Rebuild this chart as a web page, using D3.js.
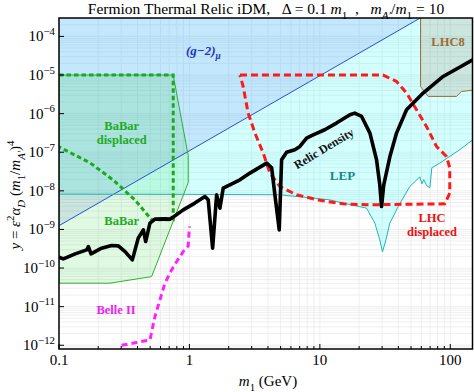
<!DOCTYPE html>
<html><head><meta charset="utf-8">
<script src="https://cdn.jsdelivr.net/npm/d3@7"></script>
<style>body{margin:0;background:#fff} text{font-family:"Liberation Serif","Times New Roman",serif}</style>
</head><body><svg id="c" width="474" height="392"></svg>
<script>
// ---------- data (m1 in GeV, y dimensionless) ----------
const relicM = [0.1,0.108,0.133,0.163,0.168,0.176,0.212,0.253,0.285,0.321,0.365,0.405,0.443,0.462,0.498,0.544,0.649,0.709,0.751,0.896,1.10,1.315,1.393,1.506,1.616,1.713,1.815,2.44,2.91,3.91,4.27,4.52,4.88,5.09,5.56,6.43,7.03,7.91,8.89,10.9,13.4,17.0,18.5,20.9,24.2,27.2,28.8,29.7,30.9,34.4,38.7,46.2,61.9,88.1,148.7];
const relicY = [1.91e-10,1.73e-10,2.33e-10,2.96e-10,3.6e-10,2.33e-10,3.27e-10,3.83e-10,3.76e-10,2.67e-10,1.63e-10,5.95e-10,9.76e-10,4.86e-10,1.46e-9,1.85e-9,1.88e-9,1.85e-9,2.08e-9,3.22e-9,4.81e-9,7.13e-9,5.85e-9,3.27e-10,7.89e-9,3.56e-9,1.17e-8,1.93e-8,2.88e-8,5.23e-8,3.95e-8,7.89e-9,9.76e-10,6.37e-8,9.97e-8,1.16e-7,1.41e-7,2.32e-7,2.83e-7,3.82e-7,5.69e-7,9.33e-7,1.03e-6,8.44e-7,3.13e-7,6.37e-8,1.43e-8,3.93e-9,1.43e-8,7.62e-8,3.13e-7,1.26e-6,3.41e-6,9.18e-6,2.49e-5];

const gm2M = [0.1, 100];
const gm2Y = [1.25e-9, 8.4e-4];

const lepM = [0.1,1.0,4.94,11.9,15.1,22.8,26.4,28.8,30.2,32.1,34.4,39.8,48.9,55.4,58.4,60.5,62.7,66.1,69.7,72.2,83.2,118,148.7];
const lepY = [8.2e-9,8.1e-9,7.89e-9,5.85e-9,4.81e-9,3.56e-9,1.46e-9,5.37e-10,2.62e-10,5.37e-10,1.46e-9,3.85e-9,1.29e-8,1.93e-8,2.31e-8,1.52e-8,1.93e-8,1.35e-8,1.2e-8,3.95e-8,5.23e-8,1.16e-7,2.1e-7];

const babarM = [0.1,0.751,0.979,0.979,0.513,0.246,0.1];
const babarY = [1e-5,1e-5,8.1e-8,1.64e-8,6.0e-11,4.06e-11,4.06e-11];

const babarDispM = [0.1,0.751,0.751,0.513,0.382,0.259,0.173,0.1];
const babarDispY = [1e-5,1e-5,1.77e-9,1.77e-9,5.85e-9,1.93e-8,5.3e-8,1.38e-7];

const lhcDispM = [2.44,30.5,38.7,46.2,55.1,65.7,78.4,93.5,99.1,99.1,90.8,22.8,15.1,10.0,6.63,4.94,4.14,3.68,3.18,2.82,2.58,2.44];
const lhcDispY = [1e-5,1e-5,6.83e-6,3.41e-6,1.26e-6,4.65e-7,1.41e-7,7.76e-8,3.95e-8,8.72e-9,4.61e-9,4.35e-9,4.61e-9,5.68e-9,7.89e-9,1.29e-8,2.88e-8,9.5e-8,3.13e-7,1.03e-6,5.06e-6,1e-5];

const belleM = [0.302,0.498,0.544,0.594,0.649,0.730,0.798,0.896,0.979,1.0];
const belleY = [1.0e-12,1.37e-12,5.52e-12,1.5e-11,4.06e-11,8.97e-11,1.47e-10,2.67e-10,3.76e-10,1.19e-9];

const lhc8M = [59.1,59.1,67.6,111.6,121.9,160,160];
const lhc8Y = [1e-3,5.06e-6,2.79e-6,2.79e-6,3.75e-6,4.15e-6,1e-3];

const xTicks = [0.1,1,10,100];
const xTickLabels = ["0.1","1","10","100"];
const yTickExp = [-12,-11,-10,-9,-8,-7,-6,-5,-4];

// ---------- layout ----------
const L=59,R=472.5,T=18,B=349;
const svg=d3.select("#c");
const x=d3.scaleLog().domain([0.1,148]).range([L,R]);
const y=d3.scaleLog().domain([8e-13,3e-4]).range([B,T]);
const pts=(ms,ys)=>ms.map((m,i)=>[x(m),y(ys[i])]);
const line=d3.line();

svg.append("defs").append("clipPath").attr("id","clip").append("rect")
  .attr("x",L).attr("y",T).attr("width",R-L).attr("height",B-T);

// grid
const grid=svg.append("g").attr("stroke","#ebebeb").attr("stroke-width",0.8);
[0.1,1,10,100].forEach(d=>{for(let k=1;k<10;k++){const v=d*k;if(v>0.1&&v<148)grid.append("line").attr("x1",x(v)).attr("x2",x(v)).attr("y1",T).attr("y2",B);}});
for(let e=-13;e<=-4;e++){for(let k=1;k<10;k++){const v=k*Math.pow(10,e);if(v>8e-13&&v<3e-4)grid.append("line").attr("y1",y(v)).attr("y2",y(v)).attr("x1",L).attr("x2",R);}}

const g=svg.append("g").attr("clip-path","url(#clip)");
const topY=y(3e-4)-20;

// LEP fill
const lp=pts(lepM,lepY);
g.append("path").attr("d",line([...lp,[R+10,lp[lp.length-1][1]],[R+10,topY],[L-10,topY],[L-10,lp[0][1]]])+"Z")
  .attr("fill","#00ffff").attr("fill-opacity",0.17);
// g-2 fill
const gp=pts(gm2M,gm2Y);
g.append("path").attr("d",line([...gp,[gp[1][0],topY-200],[L-10,topY-200],[L-10,gp[0][1]]])+"Z")
  .attr("fill","rgb(120,125,240)").attr("fill-opacity",0.19);
// BaBar fill
g.append("path").attr("d",line(pts(babarM,babarY))+"Z").attr("fill","rgb(0,205,20)").attr("fill-opacity",0.12);
// LHC8 fill
g.append("path").attr("d",line(pts(lhc8M,lhc8Y))+"Z").attr("fill","rgb(150,100,50)").attr("fill-opacity",0.16)
  .attr("stroke","#a0703a").attr("stroke-width",1);

// lines
g.append("path").attr("d",line(gp)).attr("fill","none").attr("stroke","#2a4fd0").attr("stroke-width",1);
g.append("path").attr("d",line(lp)).attr("fill","none").attr("stroke","#1fb5b5").attr("stroke-width",1);
g.append("path").attr("d",line(pts(babarM,babarY))+"Z").attr("fill","none").attr("stroke","#2eb02e").attr("stroke-width",1);
g.append("path").attr("d",line(pts(babarDispM,babarDispY))).attr("fill","none").attr("stroke","#1aaa1a").attr("stroke-width",3).attr("stroke-dasharray","4.5,3");
g.append("path").attr("d",line(pts(lhcDispM,lhcDispY))).attr("fill","none").attr("stroke","#ff1a1a").attr("stroke-width",3).attr("stroke-dasharray","7,4");
g.append("path").attr("d",line(pts(belleM,belleY))).attr("fill","none").attr("stroke","#ff22ff").attr("stroke-width",3).attr("stroke-dasharray","6,4");
g.append("path").attr("d",line(pts(relicM,relicY))).attr("fill","none").attr("stroke","#000").attr("stroke-width",3.6).attr("stroke-linejoin","round");

// frame & ticks
svg.append("rect").attr("x",L).attr("y",T).attr("width",R-L).attr("height",B-T).attr("fill","none").attr("stroke","#000").attr("stroke-width",1.5);
const tk=svg.append("g").attr("stroke","#000").attr("stroke-width",1);
[0.1,1,10,100].forEach(d=>{for(let k=1;k<10;k++){const v=d*k;if(v>=0.1&&v<148){const len=k===1?5:3;tk.append("line").attr("x1",x(v)).attr("x2",x(v)).attr("y1",B).attr("y2",B-len);}}});
yTickExp.forEach(e=>{const v=Math.pow(10,e);tk.append("line").attr("x1",L).attr("x2",L+5).attr("y1",y(v)).attr("y2",y(v));});

function rich(t,parts,size){let shift=0;parts.forEach(p=>{const target=p.sub?size*0.3:p.sup?-size*0.42:0;const ts=t.append("tspan").text(p.t).attr("dy",target-shift);shift=target;if(p.sub||p.sup)ts.attr("font-size",size*0.72);if(p.it)ts.attr("font-style","italic");});}

xTicks.forEach((v,i)=>svg.append("text").attr("x",x(v)).attr("y",365).attr("text-anchor","middle").attr("font-size",15).text(xTickLabels[i]));
yTickExp.forEach(e=>{const t=svg.append("text").attr("x",55).attr("y",y(Math.pow(10,e))+5).attr("text-anchor","end").attr("font-size",15);rich(t,[{t:"10"},{t:"−"+Math.abs(e),sup:true}],15);});

// title
const tt=svg.append("text").attr("x",266).attr("y",14).attr("text-anchor","middle").attr("font-size",15.5).style("white-space","pre");
rich(tt,[{t:"Fermion Thermal Relic iDM,   Δ = 0.1 "},{t:"m",it:true},{t:"1",sub:true},{t:"  ,   "},{t:"m",it:true},{t:"A′",sub:true,it:true},{t:"/"},{t:"m",it:true},{t:"1",sub:true},{t:" = 10"}],15.5);

// axis labels
const xl=svg.append("text").attr("x",268).attr("y",386).attr("text-anchor","middle").attr("font-size",15);
rich(xl,[{t:"m",it:true},{t:"1",sub:true},{t:" (GeV)"}],15);
const yl=svg.append("text").attr("transform","translate(20,195) rotate(-90)").attr("text-anchor","middle").attr("font-size",15);
rich(yl,[{t:"y",it:true},{t:" = "},{t:"ε",it:true},{t:"2",sup:true},{t:"α",it:true},{t:"D",sub:true,it:true},{t:" ("},{t:"m",it:true},{t:"1",sub:true},{t:"/"},{t:"m",it:true},{t:"A′",sub:true,it:true},{t:")"},{t:"4",sup:true}],15);

// region labels
const lab=(txt,xx,yy,col,size)=>svg.append("text").attr("x",xx).attr("y",yy).attr("text-anchor","middle").attr("font-size",size).attr("font-weight","bold").attr("fill",col).text(txt);
const gl=svg.append("text").attr("x",186).attr("y",55).attr("font-size",13).attr("font-weight","bold").attr("font-style","italic").attr("fill","#2233bb");
rich(gl,[{t:"(g−2)"},{t:"μ",sub:true}],13);
lab("BaBar",121.7,130,"#22aa22",12.5);
lab("displaced",121.7,143.5,"#22aa22",12.5);
lab("BaBar",121.7,225,"#22aa22",12.5);
lab("Belle II",116,313.5,"#ee22ee",12.5);
lab("LEP",342.5,180,"#118a8a",13);
lab("LHC",432,222,"#ee1111",12.5);
lab("displaced",432,235.5,"#ee1111",12.5);
lab("LHC8",448,46,"#a06a30",12.5);
svg.append("text").attr("transform","translate(326,152) rotate(-31)").attr("text-anchor","middle").attr("font-size",12).attr("font-weight","bold").attr("fill","#111").text("Relic Density");
</script></body></html>
